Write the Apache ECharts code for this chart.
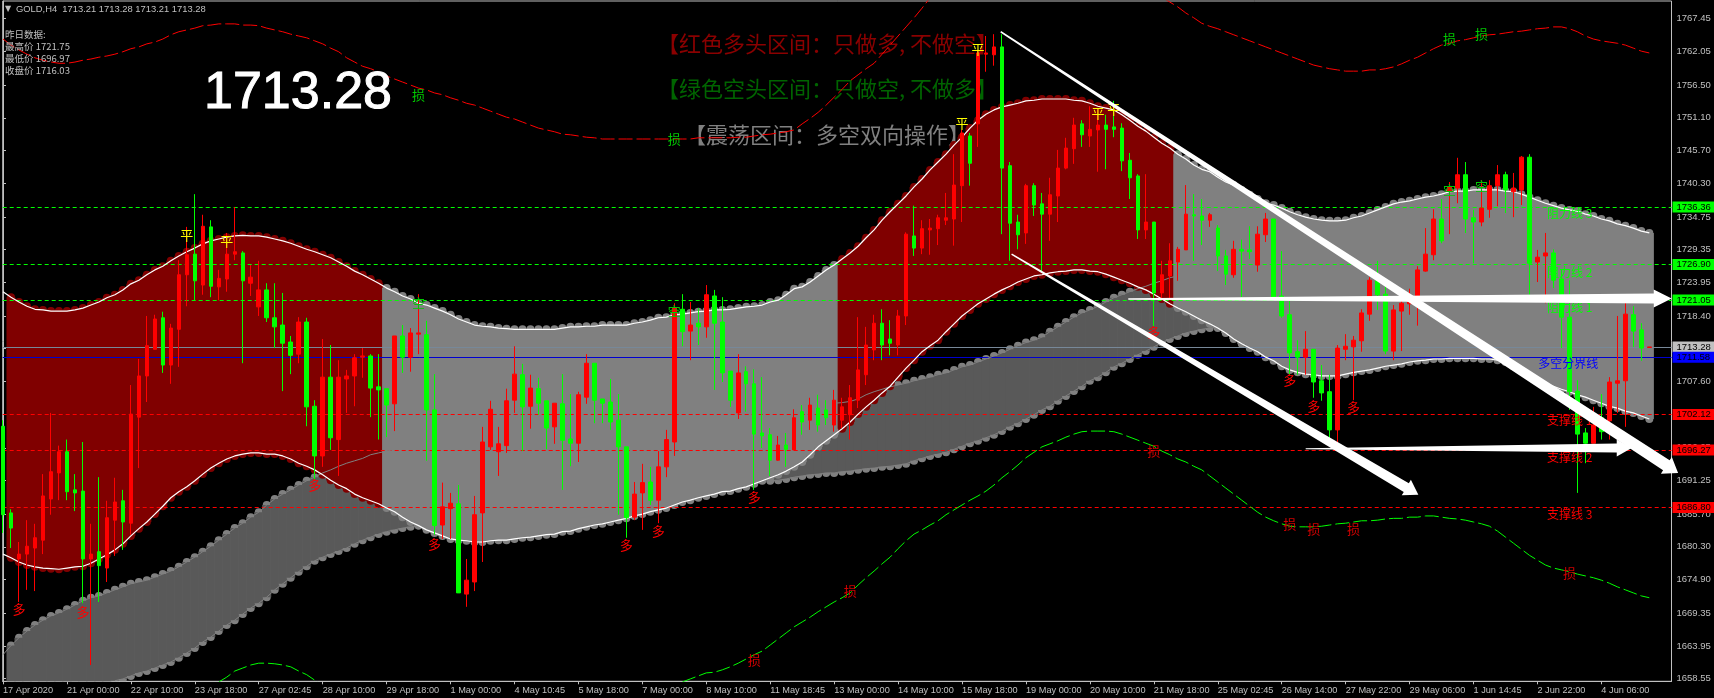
<!DOCTYPE html>
<html><head><meta charset="utf-8">
<style>html,body{margin:0;padding:0;background:#000}#c{width:1714px;height:698px}</style>
<script src="https://cdn.jsdelivr.net/npm/echarts@6/dist/echarts.min.js"></script>
</head><body><div id="c"></div>
<script>
const opens=[1700.2,1685.9,1678.3,1679.1,1680.1,1681.4,1688.2,1692.5,1696.0,1689.7,
1689.5,1678.3,1679.5,1676.8,1684.7,1687.9,1684.2,1701.7,1708.5,1712.9,
1718.1,1710.3,1716.2,1725.2,1728.6,1723.5,1733.1,1723.2,1724.5,1728.6,
1728.8,1723.8,1719.9,1722.7,1718.1,1716.9,1714.1,1712.1,1717.4,1703.5,
1695.3,1708.3,1698.0,1708.0,1708.5,1711.6,1711.8,1706.7,1706.4,1703.9,
1715.1,1711.6,1715.4,1715.3,1702.9,1683.9,1686.6,1687.4,1672.5,1674.5,
1685.9,1696.8,1696.0,1697.0,1704.5,1708.7,1703.5,1706.4,1704.4,1700.1,
1703.9,1698.1,1697.4,1705.0,1710.6,1704.7,1704.2,1701.2,1696.8,1685.2,
1689.2,1691.0,1688.0,1693.5,1697.6,1719.5,1715.9,1717.2,1716.6,1721.7,
1717.4,1709.3,1702.4,1709.2,1707.2,1699.1,1698.8,1694.6,1697.1,1696.3,
1702.6,1701.2,1703.2,1702.9,1700.4,1701.2,1702.1,1704.5,1708.7,1712.8,
1717.2,1714.6,1713.6,1718.4,1731.6,1729.6,1732.6,1732.8,1734.2,1734.4,
1739.9,1748.1,1750.1,1761.6,1761.5,1762.8,1743.2,1733.9,1732.1,1739.9,
1736.9,1735.2,1738.2,1742.8,1746.0,1750.1,1748.1,1749.1,1749.9,1749.6,
1749.4,1744.1,1741.5,1732.6,1733.9,1722.2,1725.0,1727.3,1729.3,1735.1,
1734.9,1734.2,1732.9,1728.3,1725.2,1729.4,1729.3,1726.8,1731.8,1734.4,
1721.7,1718.6,1712.5,1711.6,1712.9,1707.7,1705.9,1699.6,1712.9,1713.3,
1714.3,1718.7,1724.2,1722.0,1712.6,1719.2,1720.4,1720.7,1725.8,1728.5,
1734.4,1739.0,1739.5,1741.7,1734.6,1733.9,1736.0,1739.9,1741.7,1738.9,
1739.2,1744.6,1727.3,1728.3,1728.8,1724.5,1718.2,1706.0,1699.1,1697.4,
1701.6,1701.1,1707.3,1707.7,1718.6,1716.1,1713.21];
const closes=[1685.6,1683.4,1679.1,1680.4,1681.8,1688.7,1692.7,1696.0,1689.4,1689.2,
1678.3,1679.1,1677.2,1685.1,1687.7,1684.4,1702.2,1708.5,1713.5,1717.9,
1710.3,1716.4,1725.2,1728.5,1724.2,1733.2,1723.3,1724.6,1728.6,1729.0,
1724.2,1724.8,1722.7,1718.1,1716.6,1713.9,1711.9,1717.4,1703.4,1695.3,
1708.3,1698.3,1708.3,1708.5,1711.5,1711.8,1706.5,1706.2,1703.7,1715.1,
1711.6,1715.6,1715.6,1702.9,1683.8,1686.9,1687.5,1672.7,1674.8,1685.6,
1697.6,1703.0,1697.3,1704.4,1708.8,1703.4,1706.5,1704.0,1699.9,1704.0,
1697.9,1697.4,1705.4,1710.6,1704.5,1704.0,1700.9,1696.8,1685.1,1689.0,
1690.9,1688.0,1693.5,1698.0,1719.7,1715.8,1716.9,1716.6,1721.9,1717.2,
1709.0,1704.5,1709.0,1707.2,1698.9,1698.6,1694.6,1697.1,1696.4,1701.6,
1700.9,1703.7,1700.4,1701.6,1704.5,1703.4,1704.9,1709.5,1713.6,1717.2,
1713.6,1713.9,1718.4,1731.9,1729.6,1732.8,1732.9,1734.6,1734.6,1740.0,
1748.6,1743.6,1761.8,1761.8,1762.8,1742.8,1733.7,1731.8,1739.9,1736.7,
1735.2,1738.4,1742.8,1746.1,1749.9,1748.3,1749.2,1749.9,1749.2,1749.2,
1744.0,1741.2,1732.6,1733.9,1722.2,1725.2,1727.5,1729.4,1735.2,1734.9,
1734.2,1735.1,1728.3,1725.3,1729.4,1729.1,1729.0,1731.9,1734.4,1721.5,
1718.4,1712.3,1711.6,1712.9,1707.5,1705.7,1699.6,1713.1,1713.4,1714.4,
1718.9,1724.3,1721.9,1712.6,1719.4,1720.5,1720.7,1726.0,1728.6,1734.4,
1730.8,1739.7,1741.7,1734.4,1733.9,1736.2,1739.9,1741.7,1739.2,1739.5,
1744.6,1727.1,1728.1,1728.8,1724.3,1718.2,1705.9,1698.9,1697.4,1700.4,
1699.3,1707.5,1707.7,1718.7,1715.9,1713.1,1713.28];
const highs=[1701.2,1686.5,1681.1,1684.7,1684.1,1692.3,1702.4,1697.0,1698.0,1692.3,
1697.6,1684.1,1691.8,1687.9,1691.7,1689.7,1707.0,1711.3,1718.4,1718.6,
1719.1,1717.1,1727.6,1733.1,1738.5,1735.1,1734.2,1726.0,1732.1,1736.4,
1729.1,1726.8,1727.5,1723.8,1723.8,1722.2,1715.1,1718.2,1718.1,1704.5,
1714.6,1713.6,1711.1,1709.5,1712.1,1713.1,1712.1,1712.1,1706.4,1715.1,
1716.9,1716.4,1722.0,1717.6,1708.8,1690.9,1689.2,1690.5,1678.3,1688.7,
1700.1,1704.4,1700.1,1706.4,1713.4,1710.5,1708.7,1708.2,1704.4,1704.0,
1708.8,1705.5,1705.9,1712.1,1710.6,1704.7,1708.0,1705.5,1696.8,1691.0,
1694.0,1693.5,1696.1,1699.6,1720.5,1722.0,1720.7,1719.7,1723.5,1722.7,
1721.5,1709.3,1712.1,1710.1,1709.6,1708.3,1699.9,1698.6,1699.1,1703.0,
1703.7,1704.9,1705.4,1704.5,1706.2,1704.9,1707.0,1718.2,1716.6,1718.6,
1719.5,1717.7,1719.4,1732.2,1736.6,1734.2,1734.4,1735.1,1738.7,1745.1,
1749.1,1748.6,1762.3,1764.6,1764.9,1764.9,1743.8,1735.1,1740.2,1740.3,
1738.7,1741.2,1745.8,1747.8,1751.1,1750.7,1753.0,1752.4,1751.6,1753.9,
1750.2,1745.3,1741.8,1741.8,1733.9,1727.5,1730.4,1729.8,1740.0,1738.5,
1737.7,1735.4,1733.4,1729.3,1730.8,1731.0,1733.2,1733.2,1735.4,1734.4,
1729.1,1720.9,1714.4,1715.9,1712.9,1710.3,1708.7,1713.6,1715.4,1715.1,
1719.5,1724.8,1727.5,1723.4,1720.2,1722.2,1722.9,1726.6,1732.9,1736.0,
1737.7,1740.5,1744.5,1743.8,1735.9,1740.8,1740.8,1743.3,1742.2,1742.0,
1744.8,1745.1,1729.3,1732.1,1729.4,1726.0,1724.3,1707.8,1699.9,1703.4,
1705.5,1708.3,1718.4,1721.0,1720.0,1717.2,1713.28];
const lows=[1682.6,1680.1,1671.2,1673.2,1673.0,1679.1,1685.6,1688.0,1688.0,1686.2,
1671.0,1660.8,1671.2,1674.5,1678.8,1679.8,1682.3,1693.3,1704.2,1712.9,
1709.0,1707.2,1710.0,1720.0,1720.9,1721.9,1721.5,1721.0,1722.4,1727.6,
1710.6,1721.7,1718.4,1717.4,1713.1,1706.0,1708.8,1710.6,1700.2,1691.3,
1693.5,1696.3,1692.0,1702.4,1703.5,1708.2,1701.7,1698.0,1698.4,1699.4,
1709.0,1709.2,1712.1,1694.5,1682.3,1681.6,1681.6,1672.7,1670.4,1673.0,
1677.8,1696.3,1692.0,1695.8,1702.4,1696.1,1699.8,1702.1,1696.4,1697.3,
1689.7,1693.6,1694.3,1703.9,1700.7,1700.7,1699.6,1685.6,1681.8,1684.7,
1683.1,1687.2,1684.2,1691.8,1695.3,1713.4,1711.1,1713.6,1714.8,1706.2,
1707.5,1703.4,1701.4,1702.6,1689.7,1696.6,1692.0,1694.5,1693.5,1696.3,
1698.8,1699.6,1699.3,1700.4,1699.3,1699.9,1698.0,1703.2,1707.0,1711.1,
1711.1,1711.9,1711.9,1716.9,1728.3,1728.6,1728.5,1730.1,1733.4,1730.0,
1733.9,1739.9,1746.3,1758.7,1759.7,1731.9,1727.5,1729.4,1730.3,1734.9,
1725.8,1730.8,1733.9,1742.6,1743.5,1746.3,1746.3,1742.2,1742.6,1747.9,
1742.3,1737.7,1731.1,1731.1,1716.6,1721.0,1721.0,1724.2,1729.3,1727.5,
1730.1,1733.1,1725.8,1723.5,1724.7,1721.5,1727.8,1725.7,1730.6,1721.0,
1718.1,1708.7,1708.7,1708.7,1704.9,1704.4,1698.0,1697.4,1711.1,1704.5,
1712.5,1717.6,1719.4,1712.1,1711.1,1712.6,1718.6,1716.8,1725.7,1727.6,
1730.4,1731.9,1737.0,1732.1,1727.1,1733.2,1734.6,1736.5,1735.4,1734.7,
1736.7,1721.9,1724.0,1720.5,1723.0,1713.1,1702.9,1689.2,1694.1,1697.4,
1698.0,1698.0,1702.4,1700.1,1713.3,1711.0,1713.21];
const bandUpper=[1722.4,1721.5,1720.7,1720.0,1719.5,1719.4,1719.2,1719.2,1719.2,1719.4,
1719.7,1720.2,1720.7,1721.4,1721.9,1722.7,1723.7,1724.3,1725.2,1726.0,
1726.6,1727.5,1728.3,1729.0,1729.6,1730.3,1730.8,1731.1,1731.4,1731.6,
1731.7,1731.6,1731.6,1731.4,1731.1,1730.8,1730.4,1729.9,1729.4,1729.0,
1728.5,1728.0,1727.3,1726.6,1725.8,1725.2,1724.5,1723.8,1723.0,1722.4,
1721.7,1721.2,1720.5,1720.2,1719.7,1719.2,1718.6,1717.9,1717.4,1716.9,
1716.7,1716.6,1716.4,1716.3,1716.2,1716.2,1716.2,1716.2,1716.2,1716.2,
1716.4,1716.6,1716.6,1716.7,1716.7,1716.9,1716.9,1716.9,1716.9,1717.2,
1717.4,1717.7,1718.1,1718.2,1718.6,1718.7,1718.9,1719.1,1719.2,1719.4,
1719.4,1719.5,1719.7,1719.9,1720.0,1720.2,1720.7,1721.0,1721.9,1722.9,
1723.2,1724.0,1725.0,1726.0,1726.8,1727.8,1728.8,1729.9,1731.3,1732.6,
1734.2,1735.6,1736.9,1738.2,1739.7,1741.0,1742.5,1743.8,1745.1,1746.6,
1747.9,1749.4,1750.7,1751.7,1752.4,1752.9,1753.2,1753.5,1753.9,1754.0,
1754.2,1754.2,1754.2,1754.2,1754.0,1753.9,1753.5,1753.0,1752.7,1752.4,
1751.6,1750.7,1749.7,1748.9,1747.9,1746.9,1746.1,1745.1,1744.3,1743.3,
1742.6,1742.2,1741.3,1740.5,1740.0,1739.2,1738.4,1737.7,1737.0,1736.7,
1736.2,1735.6,1735.1,1734.7,1734.4,1734.2,1734.1,1734.1,1734.2,1734.6,
1734.9,1735.4,1735.9,1736.4,1736.9,1737.2,1737.4,1737.7,1738.0,1738.2,
1738.5,1738.9,1739.0,1739.0,1739.2,1739.2,1739.2,1739.2,1739.0,1738.9,
1738.5,1738.0,1737.5,1737.0,1736.6,1736.2,1735.9,1735.7,1735.2,1734.9,
1734.4,1734.1,1733.6,1733.3,1732.9,1732.4,1732.1];
const bandLower=[1679.1,1678.5,1677.8,1677.3,1677.0,1676.8,1676.7,1676.6,1676.8,1677.0,
1677.1,1677.6,1678.3,1679.0,1679.8,1680.8,1682.1,1683.3,1684.4,1685.7,
1687.0,1688.4,1689.4,1690.2,1691.2,1692.3,1693.3,1694.1,1694.8,1695.3,
1695.6,1695.8,1695.8,1695.6,1695.6,1695.3,1694.8,1694.1,1693.6,1693.0,
1692.2,1691.3,1690.5,1689.9,1689.0,1688.4,1687.9,1687.4,1686.7,1686.1,
1685.2,1684.4,1683.8,1683.1,1682.6,1682.1,1681.6,1681.4,1681.3,1681.1,
1681.1,1681.3,1681.4,1681.4,1681.6,1681.8,1681.9,1682.1,1682.3,1682.4,
1682.8,1682.9,1683.3,1683.6,1683.9,1684.1,1684.4,1684.7,1685.0,1685.4,
1685.7,1686.1,1686.4,1686.7,1687.2,1687.7,1688.0,1688.4,1688.7,1689.0,
1689.4,1689.5,1689.9,1690.2,1690.7,1691.2,1691.7,1692.2,1692.8,1693.5,
1694.3,1695.5,1696.8,1697.8,1698.8,1699.8,1700.9,1702.2,1703.4,1704.5,
1705.7,1706.8,1708.3,1709.8,1711.1,1712.5,1713.5,1714.4,1715.8,1717.1,
1718.4,1719.4,1720.4,1721.2,1722.0,1722.7,1723.3,1724.0,1724.5,1725.0,
1725.2,1725.5,1725.7,1725.8,1726.0,1726.0,1725.8,1725.7,1725.3,1724.8,
1724.3,1723.8,1723.2,1722.7,1722.0,1721.2,1720.4,1719.7,1719.1,1718.4,
1717.7,1717.1,1716.4,1715.6,1714.6,1713.8,1713.1,1712.5,1711.6,1711.0,
1710.1,1709.5,1709.1,1708.8,1708.7,1708.5,1708.5,1708.5,1708.8,1709.1,
1709.3,1709.5,1709.8,1710.1,1710.3,1710.5,1710.8,1711.0,1711.1,1711.3,
1711.3,1711.4,1711.4,1711.4,1711.4,1711.3,1711.3,1711.1,1710.8,1710.1,
1709.3,1708.6,1708.0,1707.3,1706.8,1706.3,1705.9,1705.4,1705.0,1704.5,
1704.0,1703.5,1703.2,1702.7,1702.4,1701.9,1701.4];
const cloudTop=[1662.5,1664.0,1665.3,1666.4,1667.4,1668.2,1668.9,1669.4,1670.0,1670.7,
1671.4,1671.9,1672.2,1672.7,1673.2,1673.7,1674.2,1674.5,1674.8,1675.3,
1675.8,1676.3,1677.0,1677.8,1678.6,1679.5,1680.4,1681.4,1682.4,1683.4,
1684.2,1685.2,1686.0,1687.2,1688.2,1689.0,1689.7,1690.5,1691.2,1691.8,
1692.5,1693.0,1693.6,1694.1,1694.5,1694.9,1695.5,1695.8,1696.1,1696.4,
1696.8,1696.9,1697.1,...Array(43).fill(null),
1702.7,1702.9,1703.1,1703.2,1703.4,1703.5,1703.7,1703.8,1704.0,1704.1,
1704.3,1704.7,1705.4,1705.9,1706.3,1706.7,1707.0,1707.3,1707.7,1708.0,
1708.3,1708.7,1709.0,1709.5,1710.0,1710.3,1710.8,1711.3,1711.8,1712.3,
1712.9,1713.5,1714.0,1714.4,1714.9,1715.8,1716.6,1717.4,1718.2,1718.9,
1719.4,1720.0,1720.7,1721.4,1721.9,1722.4,1722.9,1723.3,1723.8,1724.2,
1724.7,1725.0,1725.3,1725.7,1726.0,1726.3,1726.6,...Array(54).fill(null)];
const cloudBottom=[...Array(14).fill(null),
1658.2,1658.5,1659.0,1659.5,1659.8,1660.3,
1660.8,1661.3,1662.0,1662.8,1663.6,1664.6,1665.4,1666.4,1667.4,1668.2,
1669.2,1670.2,1671.0,1672.0,1673.2,1674.2,1675.2,1676.2,1677.1,1678.0,
1678.6,1679.1,1679.6,1680.1,1680.8,1681.4,1681.9,1682.4,1682.8,1683.1,
1683.4,1683.6,1683.8,...Array(43).fill(null),
1691.2,1691.3,1691.5,1691.8,1692.0,1692.2,1692.3,1692.5,1692.5,1692.7,
1692.8,1693.0,1693.2,1693.3,1693.5,1693.6,1693.8,1694.0,1694.5,1694.9,
1695.3,1695.6,1695.9,1696.4,1696.9,1697.4,1697.8,1698.3,1698.8,1699.4,
1700.1,1700.7,1701.4,1702.1,1702.9,1703.5,1704.4,1705.2,1706.0,1706.8,
1707.7,1708.3,1709.1,1710.0,1710.6,1711.3,1712.0,1712.6,1713.3,1714.0,
1714.6,1715.1,1715.6,1715.9,1716.2,1716.4,1716.6,...Array(54).fill(null)];
const outerUpper=[1764.1,1763.1,1762.3,1761.6,1761.0,1760.6,1760.3,1760.1,1760.1,1760.3,
1760.6,1760.8,1761.1,1761.3,1761.6,1762.0,1762.5,1762.8,1763.3,1763.6,
1764.1,1764.8,1765.3,1765.6,1765.9,1766.3,1766.4,1766.6,1766.6,1766.6,
1766.4,1766.4,1766.3,1765.9,1765.6,1765.3,1764.9,1764.6,1764.3,1763.8,
1763.3,1762.6,1762.0,1761.0,1760.3,1759.6,1759.2,1758.7,1758.0,1757.5,
1757.0,1756.5,1756.0,1755.7,1755.2,1754.9,1754.4,1754.0,1753.5,1753.2,
1752.7,1752.2,1751.7,1751.2,1750.9,1750.4,1749.9,1749.4,1749.1,1748.8,
1748.4,1748.3,1748.1,1747.9,1747.8,1747.6,1747.6,1747.6,1747.6,1747.6,
1747.6,1747.6,1747.6,1747.6,1747.6,1747.6,1747.6,1747.8,1747.8,1747.8,
1747.8,1747.8,1747.9,1747.9,1748.1,1748.3,1748.4,1748.6,1748.8,1749.1,
1750.1,1751.0,1752.0,1753.2,1754.5,1755.8,1757.2,1758.2,1759.2,1760.1,
1761.6,1763.1,1764.6,1766.1,1767.6,1769.2,1770.9,...Array(28).fill(null),
1771.0,1770.2,1769.4,1768.4,1767.6,1766.7,1766.2,1765.8,1765.3,1764.8,
1764.3,1763.8,1763.3,1762.8,1762.3,1761.8,1761.3,1760.8,1760.3,1759.8,
1759.5,1759.2,1759.0,1758.8,1758.8,1758.8,1759.0,1759.0,1759.2,1759.5,
1760.0,1760.6,1761.1,1761.8,1762.5,1763.1,1763.4,1763.8,1764.0,1764.3,
1764.6,1764.8,1764.9,1765.1,1765.3,1765.4,1765.6,1765.8,1765.9,1766.1,
1766.1,1765.8,1765.3,1764.6,1764.1,1763.8,1763.6,1763.4,1763.1,1762.6,
1762.1,1761.8];
const outerLower=[...Array(27).fill(null),
1658.0,1658.8,1659.8,1660.3,1660.8,1661.1,1661.1,1661.0,1660.8,1660.5,1659.8,1659.2,1658.3,1657.3,
...Array(44).fill(null),
1658.0,1658.5,1659.0,1659.5,1659.6,1660.0,1660.5,1661.1,1661.8,1662.5,
1663.1,1664.1,1665.1,1666.1,1667.1,1667.9,1668.7,1669.6,1670.4,1671.2,
1671.9,1672.7,1674.0,1675.2,1676.3,1677.5,1678.6,1680.0,1681.3,1682.4,
1683.1,1683.9,1684.6,1685.6,1686.4,1687.2,1688.0,1688.7,1689.5,1690.5,
1691.7,1692.7,1693.8,1695.0,1695.9,1696.8,1697.3,1697.8,1698.4,1698.9,
1699.3,1699.4,1699.4,1699.4,1699.3,1698.9,1698.4,1697.9,1697.4,1696.9,
1696.1,1695.5,1694.8,1694.3,1693.6,1693.0,1692.0,1691.0,1690.0,1689.0,
1688.0,1687.0,1686.0,1685.2,1684.6,1684.1,1683.7,1683.6,1683.6,1683.6,
1683.7,1683.9,1684.1,1684.2,1684.4,1684.6,1684.6,1684.7,1684.9,1685.0,
1685.0,1685.2,1685.2,1685.4,1685.4,1685.2,1685.0,1684.9,1684.7,1684.4,
1684.1,1683.7,1682.9,1681.9,1680.9,1679.9,1678.9,1678.1,1677.3,1676.8,
1676.5,1676.2,1675.8,1675.5,1675.2,1674.8,1674.3,1673.7,1673.2,1672.7,
1672.2,1671.9];
const bullFrom=[1,105];
const bullTo=[47,146];
const rangeFrom=[48,147];
const rangeTo=[104,206];
const tickPrices=[1767.45,1762.05,1756.50,1751.10,1745.70,1740.30,1734.75,1729.35,1723.95,1718.40,1713.00,1707.60,1702.20,1696.65,1691.25,1685.70,1680.30,1674.90,1669.35,1663.95,1658.55];
const timeLabels=['17 Apr 2020','21 Apr 00:00','22 Apr 10:00','23 Apr 18:00','27 Apr 02:45','28 Apr 10:00','29 Apr 18:00','1 May 00:00','4 May 10:45','5 May 18:00','7 May 00:00','8 May 10:00','11 May 18:45','13 May 00:00','14 May 10:00','15 May 18:00','19 May 00:00','20 May 10:00','21 May 18:00','25 May 02:45','26 May 14:00','27 May 22:00','29 May 06:00','1 Jun 14:45','2 Jun 22:00','4 Jun 06:00'];
const levelPrices=[1736.36,1726.90,1721.05,1713.28,1711.58,1702.12,1696.27,1686.80];
const levelKinds=['res','res','res','last','mid','sup','sup','sup'];
const signals=[[23,1731.8,'平','#ffff00'],[28,1730.8,'平','#ffff00'],[122,1762.5,'平','#ffff00'],[120,1750.2,'平','#ffff00'],[137,1751.9,'平','#ffff00'],[139,1752.5,'平','#ffff00'],
[52,1720.5,'空','#00c800'],[84,1719.2,'空','#00c800'],[181,1739.2,'空','#00c800'],[185,1739.9,'空','#00c800'],
[2,1670.0,'多','#ff0000'],[10,1669.5,'多','#ff0000'],[39,1690.5,'多','#ff0000'],[54,1680.8,'多','#ff0000'],[78,1680.6,'多','#ff0000'],[82,1682.9,'多','#ff0000'],[94,1688.5,'多','#ff0000'],[144,1715.8,'多','#ff0000'],[161,1707.8,'多','#ff0000'],[164,1703.5,'多','#ff0000'],[169,1703.4,'多','#ff0000'],
[52,1754.9,'损','#00c800'],[84,1747.6,'损','#00c800'],[181,1764.1,'损','#00c800'],[185,1764.9,'损','#00c800'],
[144,1696.1,'损','#d00000'],[161,1684.1,'损','#d00000'],[164,1683.2,'损','#d00000'],[169,1683.2,'损','#d00000'],[196,1676.0,'损','#d00000'],[106,1673.0,'损','#d00000'],[94,1661.6,'损','#d00000']];
const lineNotes=[[193.2,1735.4,'阻力线 3','#00ff00'],[193.2,1725.6,'阻力线 2','#00ff00'],[193.2,1719.8,'阻力线 1','#00ff00'],[192.1,1710.5,'多空分界线','#0000ff'],[193.2,1701.2,'支撑线 1','#ff0000'],[193.2,1695.1,'支撑线 2','#ff0000'],[193.2,1685.7,'支撑线 3','#ff0000']];
const arrows=[[124.84,1765.3,209.6,1692.5,1.5,12,20,14],[126.2,1728.6,177.1,1688.9,1.5,10,18,14],[140.8,1721.2,208.8,1721.3,1.5,10,18,18],[163,1696.5,203.8,1696.6,1,9,17,15]];

const priceMin=1658.11, priceMax=1770.375;
const isBull=i=>bullFrom.some((f,k)=>i>=f&&i<=bullTo[k]);
const isRange=i=>rangeFrom.some((f,k)=>i>=f&&i<=rangeTo[k]);
const idx=opens.map((_,i)=>i);
const pairs=a=>a.map((v,i)=>[i,v==null?'-':v]);

function columnShape(a,b,color,width,cap){
  return {type:'line',shape:{x1:a[0],y1:a[1],x2:b[0],y2:b[1]},style:{stroke:color,lineWidth:width,lineCap:cap}};
}
function bandItem(params,api){
  const i=api.value(0);
  if(!isBull(i)&&!isRange(i))return null;
  const a=api.coord([i,api.value(1)]),b=api.coord([i,api.value(2)]);
  const c=isBull(i)?'#800000':'#808080';
  return {type:'group',children:[columnShape(a,b,c,8,'round'),columnShape(a,b,c,9,'butt')]};
}
function cloudItem(params,api){
  const i=api.value(0);
  if(i<1||cloudTop[i]==null)return null;
  const lo=cloudBottom[i]==null?priceMin-3:cloudBottom[i];
  const a=api.coord([i,cloudTop[i]]),b=api.coord([i,lo]);
  return {type:'group',children:[columnShape(a,b,'#808080',8,'round'),columnShape(a,b,'#595959',9,'butt')]};
}
function noteItem(list,font,align){
  return function(params,api){
    const s=list[params.dataIndex],p=api.coord([s[0],s[1]]);
    return {type:'text',x:p[0],y:p[1],style:{text:s[2],fill:s[3],font:font,align:align,verticalAlign:'middle'}};
  };
}
function arrowItem(params,api){
  const s=arrows[params.dataIndex];
  const a=api.coord([s[0],s[1]]),t=api.coord([s[2],s[3]]);
  const dx=t[0]-a[0],dy=t[1]-a[1],L=Math.hypot(dx,dy),ux=dx/L,uy=dy/L,nx=-uy,ny=ux;
  const b=[t[0]-ux*s[7],t[1]-uy*s[7]];
  const pt=(c,w)=>[c[0]+nx*w,c[1]+ny*w];
  return {type:'polygon',shape:{points:[pt(a,s[4]/2),pt(b,s[5]/2),pt(b,s[6]/2),t,pt(b,-s[6]/2),pt(b,-s[5]/2),pt(a,-s[4]/2)]},style:{fill:'#ffffff'}};
}
const levelStyle={res:['#00ff00','#00ff00','dashed'],sup:['#ff0000','#ff0000','dashed'],last:['#778899','#c0c0c0','solid'],mid:['#0000d0','#0000ff','solid']};
const levels=levelPrices.map((v,k)=>{
  const st=levelStyle[levelKinds[k]];
  return {yAxis:v,lineStyle:{color:st[0],width:1,type:st[2]==='dashed'?[4,3]:'solid'},
    label:{show:true,position:'end',distance:1,formatter:v.toFixed(2),color:'#000',backgroundColor:st[1],
      fontFamily:'Liberation Sans',fontSize:9.5,padding:[1,2,0,4],width:36,lineHeight:10}};
});
const font='Liberation Sans';
const cjk='"Noto Sans CJK SC"';
const text=(s,x,y,f,c,z,stroke)=>({type:'text',z:z||20,style:Object.assign({text:s,x:x,y:y,font:f,fill:c,verticalAlign:'middle'},stroke?{stroke:c,lineWidth:stroke}:{})});

const chart=echarts.init(document.getElementById('c'),null,{renderer:'canvas'});
chart.setOption({
  animation:false,backgroundColor:'#000',
  grid:{left:1,top:1,width:1670.5,height:680.3,show:true,borderColor:'#c0c0c0',borderWidth:1,backgroundColor:'#000'},
  xAxis:{type:'value',min:-0.0375,max:208.775,splitLine:{show:false},
    axisLine:{onZero:false,lineStyle:{color:'#c0c0c0'}},
    axisTick:{length:3,lineStyle:{color:'#c0c0c0'},customValues:timeLabels.map((_,k)=>k*8)},
    axisLabel:{color:'#c0c0c0',fontFamily:font,fontSize:9.2,margin:5,align:'left',
      customValues:timeLabels.map((_,k)=>k*8),formatter:v=>timeLabels[Math.round(v/8)]}},
  yAxis:{type:'value',position:'right',min:priceMin,max:priceMax,splitLine:{show:false},
    axisLine:{show:true,lineStyle:{color:'#c0c0c0'}},
    axisTick:{show:true,length:3,lineStyle:{color:'#c0c0c0'},customValues:tickPrices},
    axisLabel:{color:'#c0c0c0',fontFamily:font,fontSize:9.5,margin:5,customValues:tickPrices,formatter:v=>v.toFixed(2)}},
  graphic:[
    text('▼',5,9,'8px "DejaVu Sans"','#c0c0c0'),
    text('GOLD,H4  1713.21 1713.28 1713.21 1713.28',16,9,'9.4px '+font,'#c0c0c0'),
    text('昨日数据:',5,34,'9.5px '+cjk,'#c0c0c0'),
    text('最高价 1721.75',5,46,'9.5px '+cjk,'#c0c0c0'),
    text('最低价 1696.97',5,58,'9.5px '+cjk,'#c0c0c0'),
    text('收盘价 1716.03',5,70,'9.5px '+cjk,'#c0c0c0'),
    text('1713.28',204,94,'52px "Liberation Sans"','#ffffff',20,1),
    text('【红色多头区间：只做多, 不做空】',657,44,'22px '+cjk,'#8b0000',1),
    text('【绿色空头区间：只做空, 不做多】',657,89,'22px '+cjk,'#006400',1),
    text('【震荡区间：多空双向操作】',684,135,'22px '+cjk,'#808080',1)
  ],
  series:[
    {type:'custom',name:'cloud',z:1,clip:true,renderItem:cloudItem,encode:{x:0,y:1},data:idx.map(i=>[i,cloudTop[i]==null?priceMin:cloudTop[i]])},
    {type:'custom',name:'band',z:2,clip:true,renderItem:bandItem,encode:{x:0,y:[1,2]},data:idx.map(i=>[i,bandUpper[i],bandLower[i]])},
    {type:'line',name:'levels',z:3,data:[],silent:true,markLine:{silent:true,symbol:'none',animation:false,z:3,data:levels}},
    {type:'line',z:4,data:pairs(cloudTop),showSymbol:false,lineStyle:{color:'#808080',width:1}},
    {type:'line',z:4,data:pairs(cloudBottom),showSymbol:false,lineStyle:{color:'#808080',width:1}},
    {type:'line',z:4,data:pairs(outerUpper),showSymbol:false,lineStyle:{color:'#ff0000',width:1,type:[14,4]}},
    {type:'line',z:4,data:pairs(outerLower),showSymbol:false,lineStyle:{color:'#00ff00',width:1,type:[14,4]}},
    {type:'line',z:4,data:pairs(bandUpper),showSymbol:false,lineStyle:{color:'#ffffff',width:1.2}},
    {type:'line',z:4,data:pairs(bandLower),showSymbol:false,lineStyle:{color:'#ffffff',width:1.2}},
    {type:'candlestick',z:5,barWidth:4,encode:{x:0,y:[1,2,3,4]},
      itemStyle:{color:'#ff0000',color0:'#00ff00',borderColor:'#ff0000',borderColor0:'#00ff00',borderWidth:1},
      data:idx.map(i=>[i,opens[i],closes[i],lows[i],highs[i]])},
    {type:'custom',z:6,renderItem:noteItem(signals,'13px '+cjk,'center'),encode:{x:0,y:1},data:signals.map(s=>[s[0],s[1]])},
    {type:'custom',z:6,renderItem:noteItem(lineNotes,'12px '+cjk,'left'),encode:{x:0,y:1},data:lineNotes.map(s=>[s[0],s[1]])},
    {type:'custom',z:7,clip:false,renderItem:arrowItem,encode:{x:0,y:1},data:arrows.map(s=>[s[0],s[1]])}
  ]
});
</script></body></html>
